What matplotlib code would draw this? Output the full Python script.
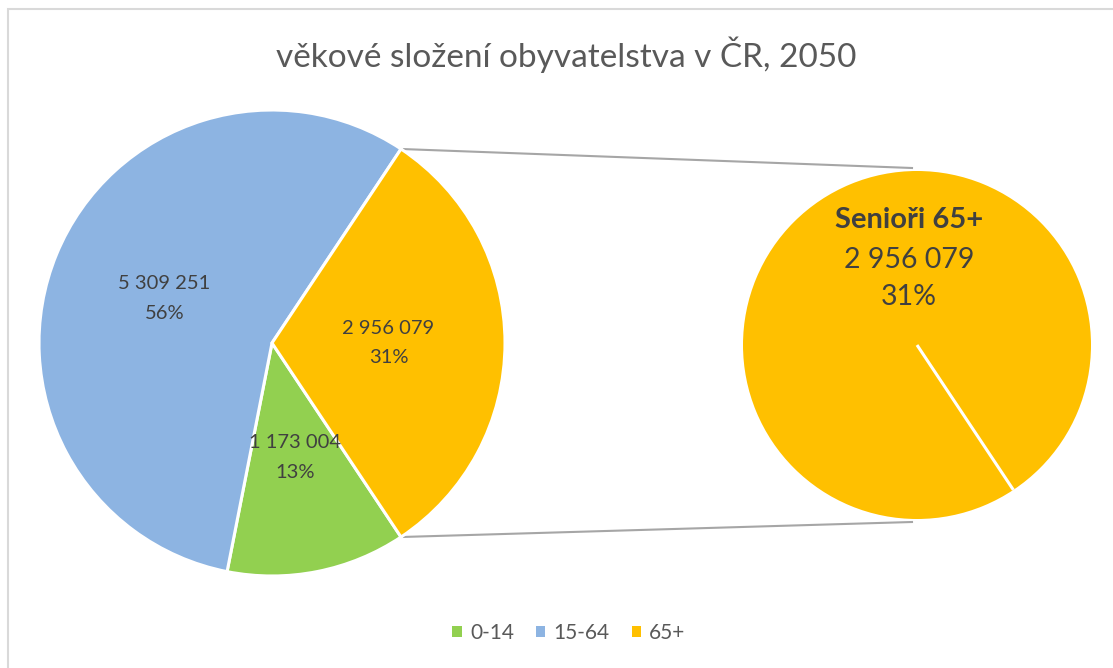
import numpy as np
import matplotlib
matplotlib.use("Agg")
import matplotlib.pyplot as plt
from matplotlib.patches import Rectangle, Patch, Wedge

# ---- data ----
title = "věkové složení obyvatelstva v ČR, 2050"
categories = ["0-14", "15-64", "65+"]
values = [1173004, 5309251, 2956079]
pct_labels = ["13%", "56%", "31%"]
colors = ["#92D050", "#8DB4E2", "#FFC000"]
secondary_title = "Senioři 65+"

plt.rcParams['font.family'] = ['Lato', 'DejaVu Sans']

def fmt(v):
    return f"{v:,}".replace(",", " ")

total = sum(values)
fracs = [v / total for v in values]

W, H = 1113, 668
fig = plt.figure(figsize=(W/100, H/100), dpi=100)
ax = fig.add_axes([0, 0, 1, 1])

# main pie
c1 = (272, H - 343)
r1 = 233
start = -fracs[2] * 180  # 65+ slice centred on the right
labels = [f"{fmt(v)}\n{p}" for v, p in zip(values, pct_labels)]
wedges, texts = ax.pie(values, colors=colors, center=c1, radius=r1,
                       startangle=start, counterclock=False,
                       labels=labels, labeldistance=0.5,
                       wedgeprops=dict(edgecolor="white", linewidth=2.2),
                       textprops=dict(fontsize=14.5, color="#404040",
                                      ha="center", va="center", linespacing=1.9),
                       frame=False)

# secondary pie (65+ only, one full slice)
c2 = (917, H - 345)
r2 = 174
ax.add_patch(Wedge(c2, r2, start, start + 360 * (values[2] / values[2]),
                   facecolor=colors[2], edgecolor="none", zorder=2))
ang = np.deg2rad(start)
ax.plot([c2[0], c2[0] + r2*np.cos(ang)], [c2[1], c2[1] + r2*np.sin(ang)],
        color="white", lw=2.2, solid_capstyle="butt", zorder=3)

tx = c2[0] - 8
ax.text(tx, H - 220, secondary_title, fontsize=21, fontweight="bold",
        color="#404040", ha="center", va="center", zorder=4)
ax.text(tx, H - 260, fmt(values[2]), fontsize=20.5,
        color="#404040", ha="center", va="center", zorder=4)
ax.text(tx, H - 297, pct_labels[2], fontsize=20.5,
        color="#404040", ha="center", va="center", zorder=4)

# connector lines
a_top = np.deg2rad(-start)
a_bot = np.deg2rad(start)
p_top = (c1[0] + r1*np.cos(a_top), c1[1] + r1*np.sin(a_top))
p_bot = (c1[0] + r1*np.cos(a_bot), c1[1] + r1*np.sin(a_bot))
ax.plot([p_top[0], c2[0] - 5], [p_top[1], c2[1] + r2 + 3], color="#A6A6A6", lw=1.5, zorder=0)
ax.plot([p_bot[0], c2[0] - 5], [p_bot[1], c2[1] - r2 - 3], color="#A6A6A6", lw=1.5, zorder=0)

# title
ax.text(W/2 + 10, H - 55, title, fontsize=24,
        color="#595959", ha="center", va="center")

# legend
handles = [Patch(facecolor=c, edgecolor="none") for c in colors]
ax.legend(handles, categories, loc="center", bbox_to_anchor=(569/W, 1 - 633/H),
          ncol=3, frameon=False, fontsize=15, handlelength=0.45, handleheight=0.45,
          handletextpad=0.4, columnspacing=1.05, labelcolor="#595959")

# chart frame
ax.add_patch(Rectangle((8, -20), W + 20, H - 9 + 20, facecolor="none",
                       edgecolor="#D9D9D9", lw=1.5, clip_on=False, zorder=0))

ax.set_xlim(0, W)
ax.set_ylim(0, H)
ax.set_aspect("equal")
ax.axis("off")

fig.savefig("out.png", dpi=100)
